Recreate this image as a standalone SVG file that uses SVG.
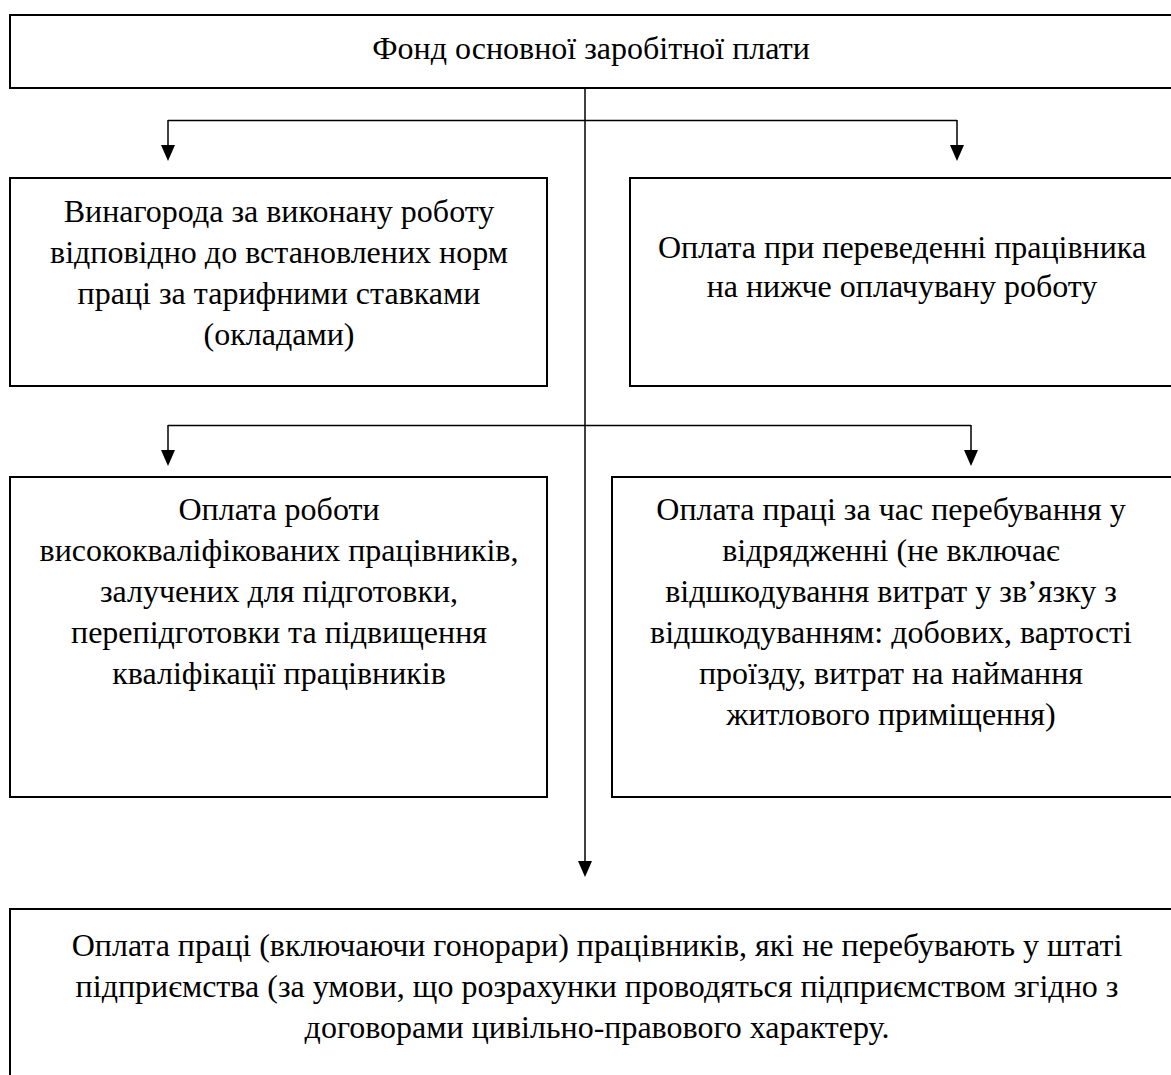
<svg xmlns="http://www.w3.org/2000/svg" width="1171" height="1075" viewBox="0 0 1171 1075">
<style>
.box{fill:#fff;stroke:#000;stroke-width:2}
.t{font-family:"Liberation Serif","Times New Roman",serif;font-size:32px;fill:#000;text-anchor:middle}
.c{fill:none;stroke:#000;stroke-width:1.5}
.ah{fill:#000}
</style>
<rect width="1171" height="1075" fill="#fff"/>
<g id="connectors">
<path class="c" d="M585,88 V866"/>
<path class="c" d="M168,120.5 H957"/>
<path class="c" d="M168,120 V150"/>
<path class="c" d="M957,120 V150"/>
<path class="c" d="M168,425.5 H971"/>
<path class="c" d="M168,425 V455"/>
<path class="c" d="M971,425 V455"/>
<path class="ah" d="M161,145 L175,145 L168,161 Z"/>
<path class="ah" d="M950,145 L964,145 L957,161 Z"/>
<path class="ah" d="M161,450 L175,450 L168,466 Z"/>
<path class="ah" d="M964,450 L978,450 L971,466 Z"/>
<path class="ah" d="M578,861 L592,861 L585,877 Z"/>
</g>
<g id="n0">
<rect class="box" x="10" y="15" width="1180" height="73"/>
<text class="t" x="591" y="59">Фонд основної заробітної плати</text>
</g>
<g id="n1">
<rect class="box" x="10" y="178" width="537" height="208"/>
<text class="t" x="279" y="222">Винагорода за виконану роботу</text>
<text class="t" x="279" y="263">відповідно до встановлених норм</text>
<text class="t" x="279" y="304">праці за тарифними ставками</text>
<text class="t" x="279" y="345">(окладами)</text>
</g>
<g id="n2">
<rect class="box" x="630" y="178" width="560" height="208"/>
<text class="t" x="902" y="258">Оплата при переведенні працівника</text>
<text class="t" x="902" y="297">на нижче оплачувану роботу</text>
</g>
<g id="n3">
<rect class="box" x="10" y="477" width="537" height="320"/>
<text class="t" x="279" y="520">Оплата роботи</text>
<text class="t" x="279" y="561">висококваліфікованих працівників,</text>
<text class="t" x="279" y="602">залучених для підготовки,</text>
<text class="t" x="279" y="643">перепідготовки та підвищення</text>
<text class="t" x="279" y="684">кваліфікації працівників</text>
</g>
<g id="n4">
<rect class="box" x="612" y="477" width="578" height="320"/>
<text class="t" x="891" y="520">Оплата праці за час перебування у</text>
<text class="t" x="891" y="561">відрядженні (не включає</text>
<text class="t" x="891" y="602">відшкодування витрат у зв’язку з</text>
<text class="t" x="891" y="643">відшкодуванням: добових, вартості</text>
<text class="t" x="891" y="684">проїзду, витрат на наймання</text>
<text class="t" x="891" y="725">житлового приміщення)</text>
</g>
<g id="n5">
<rect class="box" x="10" y="909" width="1180" height="180"/>
<text class="t" x="597" y="956">Оплата праці (включаючи гонорари) працівників, які не перебувають у штаті</text>
<text class="t" x="597" y="997">підприємства (за умови, що розрахунки проводяться підприємством згідно з</text>
<text class="t" x="597" y="1038">договорами цивільно-правового характеру.</text>
</g>
</svg>
